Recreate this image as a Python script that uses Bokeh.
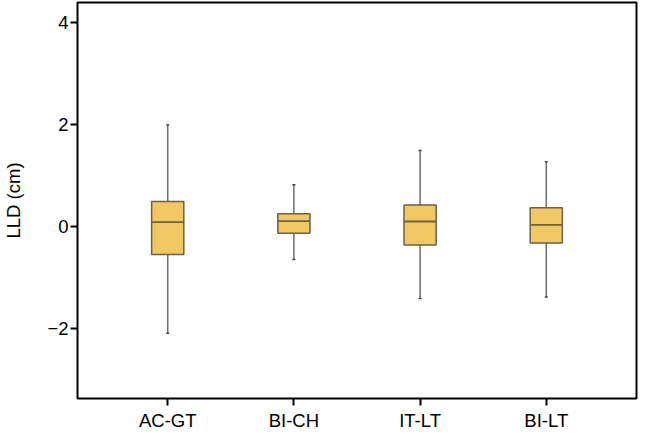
from bokeh.plotting import figure
from bokeh.models import ColumnDataSource, FactorRange, Range1d, FixedTicker
from bokeh.transform import dodge
from bokeh.embed import file_html
from bokeh.resources import INLINE

categories = ["AC-GT", "BI-CH", "IT-LT", "BI-LT"]
upper = [1.99, 0.82, 1.49, 1.27]
q3 = [0.49, 0.25, 0.42, 0.37]
median = [0.086, 0.105, 0.098, 0.033]
q1 = [-0.55, -0.13, -0.36, -0.325]
lower = [-2.09, -0.645, -1.41, -1.38]

y_ticks = [-2, 0, 2, 4]
y_tick_labels = ["\u22122", "0", "2", "4"]

src = ColumnDataSource(dict(cat=categories, upper=upper, q3=q3, median=median, q1=q1, lower=lower))

FONT = "Liberation Sans"
BOX_W = 0.255

p = figure(width=646, height=442, output_backend="svg", toolbar_location=None,
           x_range=FactorRange(factors=categories, range_padding=0.215, range_padding_units="absolute"),
           y_range=Range1d(-3.37, 4.39),
           min_border_left=74, min_border_right=10, min_border_top=2, min_border_bottom=44)

p.outline_line_color = "black"
p.outline_line_width = 2
p.xgrid.visible = False
p.ygrid.visible = False
p.background_fill_color = "white"
p.border_fill_color = "white"

# whiskers
wcol = "#6e6e6e"
p.segment(x0="cat", y0="q3", x1="cat", y1="upper", source=src, line_color=wcol, line_width=1.5)
p.segment(x0="cat", y0="q1", x1="cat", y1="lower", source=src, line_color=wcol, line_width=1.5)
p.segment(x0=dodge("cat", -0.012, range=p.x_range), y0="upper",
          x1=dodge("cat", 0.012, range=p.x_range), y1="upper", source=src, line_color="#444444", line_width=1.5)
p.segment(x0=dodge("cat", -0.012, range=p.x_range), y0="lower",
          x1=dodge("cat", 0.012, range=p.x_range), y1="lower", source=src, line_color="#444444", line_width=1.5)

# boxes
p.vbar(x="cat", top="q3", bottom="q1", width=BOX_W, source=src,
       fill_color="#F2C865", line_color="#6b6048", line_width=1.5)
p.segment(x0=dodge("cat", -BOX_W / 2, range=p.x_range), y0="median",
          x1=dodge("cat", BOX_W / 2, range=p.x_range), y1="median", source=src,
          line_color="#6b6048", line_width=1.8)

for ax in (p.xaxis[0], p.yaxis[0]):
    ax.axis_line_color = None
    ax.major_tick_line_color = "black"
    ax.major_tick_line_width = 2
    ax.major_tick_out = 7
    ax.major_tick_in = 0
    ax.minor_tick_line_color = None
    ax.major_label_text_font = FONT
    ax.major_label_text_font_size = "18.5px"
    ax.major_label_text_color = "black"

p.yaxis.ticker = FixedTicker(ticks=y_ticks)
p.yaxis.major_label_overrides = dict(zip(y_ticks, y_tick_labels))
p.yaxis.major_label_standoff = 2
p.xaxis.major_label_standoff = 4

p.yaxis.axis_label = "LLD (cm)"
p.yaxis.axis_label_text_font = FONT
p.yaxis.axis_label_text_font_size = "18.5px"
p.yaxis.axis_label_text_font_style = "normal"
p.yaxis.axis_label_text_color = "black"
p.yaxis.axis_label_standoff = 20

open("out.html", "w").write(file_html(p, INLINE))
